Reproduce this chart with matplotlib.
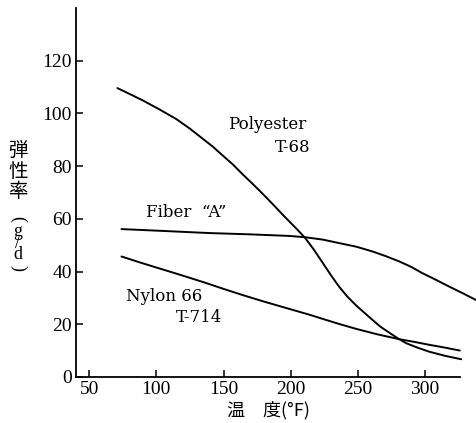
import matplotlib
matplotlib.use("Agg")
import matplotlib.pyplot as plt

# values (temperature in F, modulus in g/d)
poly_x = [71, 80, 90, 102, 115, 125, 134, 142, 149, 157, 164, 171, 177, 183, 189, 194, 199, 205, 211, 217, 224, 230, 236, 242, 249, 255, 261, 267, 274, 280, 286, 295, 303, 315, 327]
poly_y = [109.6, 107.4, 104.9, 101.6, 97.8, 94.2, 90.6, 87.4, 84.2, 80.6, 77.0, 73.6, 70.6, 67.5, 64.3, 61.6, 59.0, 55.9, 52.6, 48.5, 43.2, 38.6, 34.3, 30.6, 27.0, 24.3, 21.6, 19.0, 16.6, 14.6, 12.8, 11.0, 9.6, 8.0, 6.7]

fiber_x = [74, 105, 139, 170, 199, 211, 224, 236, 249, 261, 271, 281, 290, 298, 308, 318, 328, 338]
fiber_y = [56.1, 55.4, 54.6, 54.1, 53.5, 53, 52.1, 50.8, 49.4, 47.6, 45.8, 43.8, 41.7, 39.4, 36.9, 34.3, 31.8, 29.2]

nylon_x = [74, 88, 102, 118, 136, 150, 164, 180, 197, 214, 224, 236, 249, 265, 281, 292, 303, 315, 326]
nylon_y = [45.7, 43.4, 41.2, 38.7, 35.8, 33.4, 31.1, 28.6, 26.1, 23.6, 22.0, 20.1, 18.2, 16.1, 14.3, 13.3, 12.2, 11.1, 10]

xticks = [50, 100, 150, 200, 250, 300]
yticks = [0, 20, 40, 60, 80, 100, 120]

serif = ["Liberation Serif", "DejaVu Serif"]
wide = ["DejaVu Serif"]
cjk = ["Noto Sans CJK JP", "DejaVu Sans"]

W, H = 477, 423
fig = plt.figure(figsize=(4.77, 4.23), dpi=100)
ax = fig.add_axes([0.159, 0.109, 0.805, 0.872])

def px(x, y):
    return x / W, 1 - y / H

for xs, ys in [(poly_x, poly_y), (fiber_x, fiber_y), (nylon_x, nylon_y)]:
    ax.plot(xs, ys, color="black", lw=1.4, clip_on=False,
            solid_joinstyle="round", solid_capstyle="round")

ax.set_xlim(40, 326)
ax.set_ylim(0, 140)
ax.spines["top"].set_visible(False)
ax.spines["right"].set_visible(False)
ax.spines["left"].set_linewidth(1.3)
ax.spines["bottom"].set_linewidth(1.3)
ax.set_xticks(xticks)
ax.set_yticks(yticks)
ax.tick_params(direction="in", length=5, width=1.1, labelsize=14, pad=3)
for lab in ax.get_xticklabels() + ax.get_yticklabels():
    lab.set_family(serif)

ax.text(182.6, 95.7, "Polyester", fontsize=12, family=wide, ha="center", va="center")
ax.text(201.3, 87, "T-68", fontsize=12, family=wide, ha="center", va="center")
ax.text(122.3, 62.3, "Fiber  \u201cA\u201d", fontsize=12, family=wide, ha="center", va="center")
ax.text(105.9, 30.4, "Nylon 66", fontsize=12, family=wide, ha="center", va="center")
ax.text(132, 22.4, "T-714", fontsize=12, family=wide, ha="center", va="center")

fig.text(*px(268, 410), "温　度(°F)", fontsize=13, family=cjk, ha="center", va="center")

# vertical y label, stacked by hand
fig.text(*px(18, 171), "弾\n性\n率", fontsize=14, family=cjk, ha="center", va="center",
         linespacing=0.95)
fig.text(*px(18, 219), "(", fontsize=13, family=serif, rotation=-90, ha="center", va="center")
fig.text(*px(18, 243), "g\n/\nd", fontsize=13, family=serif, ha="center", va="center",
         linespacing=0.55)
fig.text(*px(18, 268), ")", fontsize=13, family=serif, rotation=-90, ha="center", va="center")

fig.savefig("out.png", dpi=100)
